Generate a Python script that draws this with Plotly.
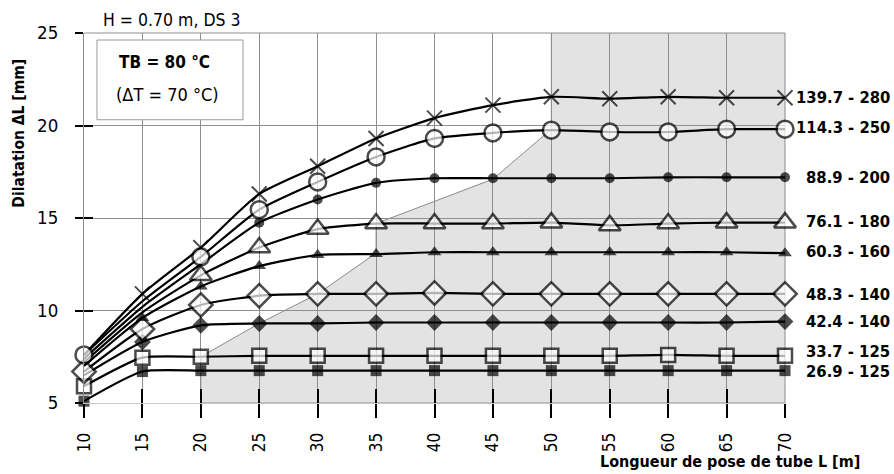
import plotly.graph_objects as go

# ---- data ----
x_len = [10, 15, 20, 25, 30, 35, 40, 45, 50, 55, 60, 65, 70]

labels = ["26.9 - 125", "33.7 - 125", "42.4 - 140", "48.3 - 140", "60.3 - 160",
          "76.1 - 180", "88.9 - 200", "139.7 - 280", "114.3 - 250"]

s269 = [5.1, 6.7, 6.75, 6.75, 6.75, 6.75, 6.75, 6.75, 6.75, 6.75, 6.75, 6.75, 6.75]
s337 = [5.9, 7.45, 7.5, 7.55, 7.55, 7.55, 7.55, 7.55, 7.55, 7.55, 7.6, 7.55, 7.55]
s424 = [6.5, 8.3, 9.2, 9.3, 9.3, 9.35, 9.35, 9.35, 9.35, 9.35, 9.35, 9.35, 9.4]
s483 = [6.7, 9.0, 10.3, 10.8, 10.9, 10.9, 10.95, 10.9, 10.9, 10.9, 10.9, 10.9, 10.9]
s603 = [7.0, 9.6, 11.3, 12.4, 13.0, 13.05, 13.15, 13.15, 13.15, 13.15, 13.15, 13.15, 13.1]
s761 = [7.2, 9.9, 11.9, 13.4, 14.4, 14.7, 14.7, 14.7, 14.75, 14.6, 14.7, 14.75, 14.75]
s889 = [7.4, 10.2, 12.5, 14.75, 16.0, 16.9, 17.15, 17.15, 17.15, 17.15, 17.2, 17.2, 17.2]
s1397 = [7.6, 10.9, 13.4, 16.3, 17.8, 19.3, 20.4, 21.1, 21.55, 21.45, 21.55, 21.5, 21.5]
s1143 = [7.6, 10.5, 12.9, 15.45, 16.95, 18.3, 19.3, 19.6, 19.75, 19.65, 19.65, 19.8, 19.8]

series = [s269, s337, s424, s483, s603, s761, s889, s1397, s1143]

# points where the original shows no marker
hidden = [[], [], [10], [], [10], [10, 15], [10, 15, 20], [10], [15]]

# y of the right-hand labels
label_y = [6.72, 7.8, 9.42, 10.87, 13.2, 14.8, 17.2, 21.5, 19.88]

# shaded region boundary
region_x = [20, 20, 25, 30, 35, 35, 45, 50, 50, 70, 70]
region_y = [5, 7.5, 9.3, 10.9, 13.1, 14.7, 17.1, 19.8, 25, 25, 5]

y_ticks = [5, 10, 15, 20, 25]

# ---- styles ----
styles = [
    dict(symbol="square", color="black", size=11, lw=0),
    dict(symbol="square", color="white", size=14, lw=2.5),
    dict(symbol="diamond", color="black", size=13, lw=0),
    dict(symbol="diamond", color="white", size=18, lw=2.5),
    dict(symbol="triangle-up", color="black", size=12, lw=0),
    dict(symbol="triangle-up", color="white", size=19, lw=2.5),
    dict(symbol="circle", color="black", size=10, lw=0),
    dict(symbol="x-thin", color="black", size=15, lw=2),
    dict(symbol="circle", color="white", size=17, lw=2.5),
]

FONT = "DejaVu Sans Condensed, DejaVu Sans, sans-serif"

fig = go.Figure()

for ys, st, hid in zip(series, styles, hidden):
    sizes = [0 if xv in hid else st["size"] for xv in x_len]
    fig.add_trace(go.Scatter(
        x=x_len, y=ys, mode="lines+markers",
        line=dict(color="black", width=2.2, shape="spline", smoothing=0.6),
        marker=dict(symbol=st["symbol"], color=st["color"], size=sizes,
                    line=dict(color="black", width=st["lw"])),
        cliponaxis=False, showlegend=False, hoverinfo="skip",
    ))

# empty trace so the overlay axes (inner tick marks) get drawn
fig.add_trace(go.Scatter(x=[], y=[], xaxis="x2", yaxis="y2", showlegend=False,
                         hoverinfo="skip"))

# shaded region
path = "M " + " L ".join(f"{a},{b}" for a, b in zip(region_x, region_y)) + " Z"
fig.add_shape(type="path", path=path, xref="x", yref="y",
              fillcolor="#e3e3e3", line=dict(color="#8a8a8a", width=1), layer="below")

# info box
fig.add_shape(type="rect", xref="paper", yref="paper",
              x0=0.0185, x1=0.2268, y0=0.7655, y1=0.981,
              fillcolor="white", line=dict(color="#9a9a9a", width=1), layer="above")

ann = []
ann.append(dict(text="<b>TB = 80 °C</b>", xref="paper", yref="paper",
                x=0.1155, y=0.921, xanchor="center", yanchor="middle",
                showarrow=False, font=dict(size=17, family=FONT, color="black")))
ann.append(dict(text="(ΔT = 70 °C)", xref="paper", yref="paper",
                x=0.1198, y=0.833, xanchor="center", yanchor="middle",
                showarrow=False, font=dict(size=18, family=FONT, color="black")))
ann.append(dict(text="H = 0.70 m, DS 3", xref="paper", yref="paper",
                x=0.024, y=1.035, xanchor="left", yanchor="middle",
                showarrow=False, font=dict(size=17.5, family=FONT, color="black")))
ann.append(dict(text="<b>Dilatation ΔL [mm]</b>", xref="paper", yref="paper",
                x=-0.0927, y=0.728, xanchor="center", yanchor="middle", textangle=-90,
                showarrow=False, font=dict(size=15.5, family=FONT, color="black")))
ann.append(dict(text="<b>Longueur de pose de tube L [m]</b>", xref="paper", yref="paper",
                x=1.1098, y=-0.159, xanchor="right", yanchor="middle",
                showarrow=False, font=dict(size=16, family=FONT, color="black")))
for lab, ly in zip(labels, label_y):
    ann.append(dict(text=f"<b>{lab}</b>", xref="paper", yref="y",
                    x=1.1526, y=ly, xanchor="right", yanchor="middle",
                    showarrow=False, font=dict(size=16.5, family=FONT, color="black")))

grid_col = "#8f8f8f"
fig.update_layout(
    width=894, height=474,
    margin=dict(l=84, r=109, t=33, b=71),
    paper_bgcolor="white", plot_bgcolor="white",
    font=dict(family=FONT, color="black", size=19),
    annotations=ann,
    xaxis=dict(range=[10, 70], tickvals=x_len, ticktext=[str(v) for v in x_len],
               tickangle=-90, ticks="outside", ticklen=14, tickwidth=2, tickcolor="black",
               showgrid=True, gridcolor=grid_col, gridwidth=1,
               showline=True, linecolor="#c8c8c8", linewidth=1, mirror=False,
               zeroline=False, tickfont=dict(size=17, family=FONT), ticklabelstandoff=8),
    yaxis=dict(range=[5, 25], tickvals=y_ticks, ticks="outside", ticklen=8, tickwidth=2,
               tickcolor="black", showgrid=True, gridcolor=grid_col, gridwidth=1,
               showline=True, linecolor=grid_col, linewidth=1, mirror=False,
               zeroline=False, tickfont=dict(size=18.5, family=FONT), ticklabelstandoff=13),
    xaxis2=dict(range=[10, 70], tickvals=x_len, overlaying="x", anchor="y2",
                ticks="inside", ticklen=14, tickwidth=2, tickcolor="black",
                showticklabels=False, showgrid=False, zeroline=False, showline=False),
    yaxis2=dict(range=[5, 25], tickvals=y_ticks, overlaying="y", anchor="x2", side="left",
                ticks="inside", ticklen=9, tickwidth=2, tickcolor="black",
                showticklabels=False, showgrid=False, zeroline=False, showline=False),
)

fig.add_shape(type="line", xref="paper", yref="paper", x0=0, x1=1, y0=1, y1=1,
              line=dict(color=grid_col, width=1), layer="below")
fig.add_shape(type="line", xref="paper", yref="paper", x0=1, x1=1, y0=0, y1=1,
              line=dict(color=grid_col, width=1), layer="below")

fig.write_html("out.html", config={"displayModeBar": False},
               post_script="document.body.style.margin='0';document.body.style.overflow='hidden';")
